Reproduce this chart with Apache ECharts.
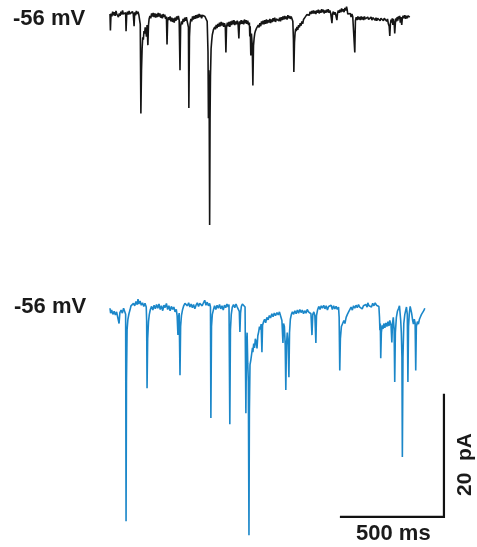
<!DOCTYPE html>
<html>
<head>
<meta charset="utf-8">
<script src="https://cdn.jsdelivr.net/npm/echarts@6/dist/echarts.min.js"></script>
<style>
html,body{margin:0;padding:0;background:#fff;}
#chart{width:477px;height:547px;}
</style>
</head>
<body>
<div id="chart"></div>
<script>
// Trace 1 (black): [time ms, current pA relative to holding baseline]
const traceBlack = [[0,0.2],[2,-2.5],[5,0.3],[9,-0.2],[13,0.6],[17,0.0],[21,0.5],[25,-0.1],[29,0.7],[33,0.2],[37,0.5],[41,-0.3],[45,0.3],[49,-0.1],[53,0.6],[57,0.1],[61,0.8],[65,0.2],[69,0.5],[73,-0.1],[76,0.4],[78,-2.6],[81,0.0],[85,0.6],[89,0.1],[93,0.7],[97,0.2],[101,0.5],[105,-0.1],[109,0.6],[113,0.2],[117,-1.8],[120,0.5],[124,0.0],[128,0.7],[132,0.2],[136,0.6],[140,0.1],[144,0.4],[147,-1.5],[150,-16.1],[153,-9],[156,-5.5],[159,-3.6],[162,-4.0],[165,-2.6],[168,-3.0],[171,-2.0],[174,-2.6],[177,-3.5],[180,-1.6],[184,-4.9],[187,-1.6],[190,-0.6],[194,-0.1],[198,-0.5],[202,0.3],[206,-0.2],[210,0.4],[214,-0.3],[218,0.3],[222,-0.4],[226,0.2],[230,-0.3],[234,0.4],[238,-0.2],[242,0.3],[246,-0.4],[250,0.1],[254,-0.5],[258,0.2],[262,-0.3],[266,0.1],[270,-0.6],[274,-0.2],[277,-4.8],[280,-0.9],[284,-0.3],[288,-0.8],[292,-0.2],[296,-1.0],[300,-0.4],[304,-1.1],[308,-0.5],[312,-1.2],[316,-0.4],[320,-0.9],[324,-0.2],[328,-0.7],[332,-0.1],[336,-0.8],[340,-9.0],[343,-1.8],[347,-1.0],[351,-1.5],[355,-0.6],[359,-1.1],[363,-0.4],[367,-0.9],[371,-0.3],[375,-1.0],[379,-0.8],[381,-2.0],[383,-15.2],[386,-3.5],[389,-1.4],[393,-0.6],[397,-1.0],[401,-0.2],[405,-0.7],[409,-0.1],[413,-0.6],[417,0.0],[421,-0.5],[425,0.1],[429,-0.4],[433,0.2],[437,-0.3],[441,0.1],[445,-0.5],[449,0.0],[453,-0.3],[457,0.2],[461,-0.2],[465,0.1],[469,-0.4],[472,-1.0],[476,-6],[478,-16.9],[480,-9],[482,-16.9],[484,-34.4],[486,-16.9],[488,-10],[491,-5.5],[494,-4.2],[497,-3.2],[500,-3.0],[503,-2.3],[506,-2.6],[509,-1.9],[512,-2.3],[516,-1.6],[520,-2.1],[524,-1.4],[528,-1.9],[532,-1.2],[536,-1.8],[540,-1.1],[544,-1.7],[548,-1.2],[552,-1.9],[556,-1.3],[560,-1.8],[563,-6.1],[566,-1.9],[570,-1.2],[574,-1.8],[578,-1.1],[582,-1.9],[586,-1.0],[590,-1.6],[594,-0.9],[598,-1.5],[602,-0.8],[606,-1.6],[610,-1.0],[614,-1.5],[618,-0.9],[622,-1.4],[626,-3.8],[629,-1.0],[633,-1.5],[637,-0.8],[641,-1.4],[645,-0.9],[649,-1.5],[653,-0.7],[657,-1.3],[661,-0.8],[665,-1.4],[669,-0.9],[673,-1.6],[677,-1.2],[679,-3.5],[681,-1.8],[684,-6.6],[687,-3],[691,-5],[694,-11.5],[697,-5],[700,-3.8],[703,-3.0],[706,-2.6],[709,-2.9],[712,-2.1],[716,-2.4],[720,-1.6],[724,-2.0],[728,-1.3],[732,-1.8],[736,-1.0],[740,-1.5],[744,-0.9],[748,-1.5],[752,-0.8],[756,-1.4],[760,-0.7],[764,-1.3],[768,-0.8],[772,-1.2],[776,-0.6],[780,-1.3],[784,-0.7],[788,-1.1],[792,-0.5],[796,-1.0],[800,-0.4],[804,-1.1],[808,-0.6],[812,-0.9],[816,-0.3],[820,-0.9],[824,-0.4],[828,-1.0],[832,-0.3],[836,-0.8],[840,-0.2],[844,-0.7],[848,-0.1],[852,-0.6],[856,-0.2],[860,-0.7],[864,0.0],[868,-0.5],[872,-0.1],[876,-0.6],[880,-0.2],[884,-0.5],[888,-1.0],[891,-4],[893,-9.3],[896,-4.5],[899,-2.9],[902,-2.2],[905,-2.6],[908,-1.9],[912,-2.4],[916,-1.6],[920,-2.0],[924,-1.3],[928,-1.7],[932,-1.0],[936,-1.4],[940,-0.7],[944,-1.0],[948,-0.3],[952,-0.6],[956,0.1],[960,-0.2],[964,0.4],[968,0.0],[972,0.6],[976,0.2],[980,0.7],[984,0.3],[988,0.8],[992,0.3],[996,0.7],[1000,0.2],[1004,0.8],[1008,0.4],[1012,0.9],[1016,0.3],[1020,0.8],[1024,0.4],[1028,1.0],[1032,0.5],[1036,0.9],[1040,0.3],[1044,0.8],[1048,0.4],[1052,0.9],[1056,0.5],[1060,1.0],[1064,0.4],[1068,0.8],[1072,0.3],[1075,0.5],[1078,-1.3],[1081,0.2],[1085,0.6],[1089,0.1],[1093,0.5],[1097,0.0],[1100,0.3],[1102,-0.8],[1105,0.3],[1109,0.8],[1113,0.4],[1117,0.9],[1121,0.5],[1125,1.1],[1129,0.6],[1133,1.0],[1137,0.5],[1141,1.2],[1145,0.8],[1149,1.4],[1152,0.9],[1155,0.2],[1159,0.5],[1163,-0.1],[1167,0.3],[1171,-0.3],[1175,0.2],[1179,-0.2],[1183,0.1],[1186,-0.4],[1189,-6.1],[1192,-0.9],[1196,-0.3],[1200,-0.8],[1204,-0.2],[1208,-0.7],[1212,-0.3],[1216,-0.8],[1220,-0.2],[1224,-0.7],[1228,-0.3],[1232,-0.8],[1236,-0.2],[1240,-0.6],[1244,-0.3],[1248,-0.8],[1252,-0.3],[1256,-0.7],[1260,-0.4],[1264,-0.9],[1268,-0.3],[1272,-0.8],[1276,-0.4],[1280,-0.7],[1284,-0.3],[1288,-0.8],[1292,-0.4],[1296,-0.9],[1300,-0.5],[1304,-0.8],[1308,-0.4],[1312,-0.9],[1316,-0.5],[1320,-0.8],[1324,-0.4],[1328,-0.9],[1332,-0.5],[1336,-0.8],[1340,-0.4],[1344,-1.0],[1348,-0.6],[1352,-1.4],[1356,-1.8],[1359,-3.4],[1362,-1.4],[1365,-0.7],[1368,-1.2],[1371,-0.5],[1374,-1.6],[1377,-0.6],[1380,-1.2],[1383,-3.0],[1386,-1.3],[1389,-0.5],[1392,-1.0],[1395,-0.3],[1398,-0.9],[1401,-0.2],[1404,-0.6],[1407,-0.1],[1410,-1.2],[1413,-0.3],[1417,-1.6],[1420,-0.5],[1424,-0.1],[1428,-0.5],[1432,0.0],[1436,-0.6],[1440,-0.1],[1444,-0.5],[1448,-0.1],[1452,-0.4],[1456,-0.3]];

// Trace 2 (blue): [time ms, current pA relative to holding baseline]
const traceBlue = [[0,0.0],[3,-0.8],[8,-0.3],[14,-1.0],[20,-0.5],[26,-1.1],[32,-0.6],[38,-0.9],[44,-2.5],[48,-0.7],[54,-0.3],[60,-0.8],[66,0.0],[72,-0.3],[76,-1.0],[78,-34.9],[80,-12],[83,-3.5],[87,-1.8],[92,-0.9],[97,-0.3],[102,0.4],[108,0.1],[114,0.8],[120,0.4],[126,1.1],[132,0.6],[136,1.5],[140,0.7],[146,1.2],[152,0.5],[158,0.9],[164,0.3],[170,0.8],[176,0.2],[178,-2],[180,-13.1],[183,-5],[187,-2.2],[191,-1.0],[196,-0.2],[202,0.3],[208,-0.3],[214,0.5],[220,-0.1],[226,0.6],[232,0.0],[238,0.7],[244,-0.2],[250,0.4],[256,-0.4],[262,0.5],[268,0.1],[274,0.8],[280,-0.2],[286,0.4],[292,-0.4],[298,0.3],[304,-0.2],[310,0.2],[316,-0.6],[322,-0.2],[326,-1.2],[330,-4.4],[333,-1.5],[336,-0.8],[340,-11.0],[343,-3.0],[347,-1.2],[352,-0.3],[358,0.4],[364,0.8],[370,1.1],[376,0.4],[382,0.9],[388,0.2],[394,0.7],[400,0.1],[406,0.6],[412,-0.1],[418,0.5],[424,0.9],[430,0.3],[436,0.8],[442,1.0],[448,0.4],[454,0.9],[460,1.3],[466,0.5],[472,1.0],[478,0.4],[484,0.8],[488,0.2],[490,-18.0],[493,-3],[497,-1.0],[502,-0.3],[508,0.4],[514,-0.2],[520,0.5],[526,0.0],[532,0.6],[538,-0.1],[544,0.4],[550,-0.3],[556,0.5],[562,0.1],[568,0.7],[574,0.2],[578,0.6],[582,-19.0],[585,-3.5],[589,-1.0],[594,0.2],[600,0.6],[606,0.1],[612,0.7],[618,0.2],[624,0.5],[628,-0.5],[631,-3.9],[634,-0.8],[638,0.3],[643,0.7],[648,1.0],[652,0.6],[656,0.2],[660,-17.2],[663,-6],[666,-4],[669,-9],[672,-12],[675,-37.2],[677,-17],[680,-9.3],[684,-8.5],[688,-7.5],[692,-6.5],[694,-7.2],[698,-5.8],[702,-6.5],[706,-5.0],[710,-5.5],[714,-6.6],[718,-4.5],[722,-3.9],[726,-3.0],[730,-3.5],[734,-2.6],[738,-7.2],[741,-2.8],[746,-2.2],[751,-1.8],[756,-2.4],[762,-1.5],[768,-1.9],[774,-1.2],[780,-1.6],[786,-0.9],[792,-1.4],[798,-0.8],[804,-1.2],[811,-0.7],[817,-1.1],[823,-0.6],[829,-1.3],[835,-2.0],[840,-5.7],[843,-2.5],[847,-3.0],[851,-6],[854,-13.4],[857,-6],[861,-4.0],[865,-5.5],[869,-11.3],[872,-4.0],[876,-1.8],[881,-1.0],[886,-0.6],[892,-1.0],[898,-0.4],[904,-0.9],[910,-0.3],[916,-0.8],[922,-0.2],[928,-0.7],[934,-0.3],[940,-0.9],[946,-0.4],[952,-0.8],[958,-0.2],[964,-0.6],[970,-0.3],[976,-0.9],[981,-4.4],[985,-1.0],[990,-0.6],[995,-1.2],[1000,-5.7],[1003,-1.2],[1008,-0.3],[1014,0.3],[1020,-0.2],[1026,0.4],[1032,0.0],[1038,0.5],[1044,-0.1],[1050,0.4],[1056,-0.3],[1062,0.3],[1068,0.0],[1074,0.5],[1080,-0.2],[1086,0.4],[1092,-0.1],[1098,0.3],[1104,-0.2],[1110,0.2],[1113,-1.5],[1116,-10.2],[1119,-5],[1124,-3.0],[1130,-2.5],[1136,-2.0],[1141,-2.5],[1147,-1.5],[1153,-1.0],[1159,-0.6],[1165,-0.3],[1171,0.2],[1177,-0.3],[1183,0.4],[1189,0.0],[1195,0.5],[1201,0.1],[1207,0.6],[1213,0.2],[1219,0.5],[1225,-0.1],[1231,0.4],[1237,0.1],[1243,0.6],[1249,0.2],[1252,0.9],[1258,0.4],[1264,0.7],[1270,0.2],[1276,0.8],[1282,0.4],[1288,0.9],[1294,0.5],[1300,0.7],[1306,0.3],[1309,-1.5],[1311,-3.6],[1313,-2.5],[1315,-8.2],[1318,-4.0],[1322,-2.8],[1326,-3.4],[1330,-2.5],[1335,-3.2],[1340,-2.4],[1345,-3.0],[1350,-2.2],[1355,-2.9],[1359,-2.0],[1365,-2.8],[1369,-5.6],[1372,-2.5],[1376,-1.5],[1380,-3.5],[1383,-12.1],[1386,-4.0],[1391,-1.5],[1396,-0.5],[1402,0.0],[1406,0.4],[1409,0.3],[1412,-2],[1415,-4],[1418,-8],[1420,-24.4],[1423,-8],[1427,-2.5],[1432,-1.0],[1436,-0.4],[1440,0.2],[1444,-1.0],[1447,-12.1],[1450,-3.0],[1454,-0.8],[1458,0.3],[1461,0.6],[1465,-0.8],[1470,-2.0],[1474,-2.6],[1478,-1.8],[1482,-2.4],[1485,-10.2],[1488,-3.0],[1493,-2.2],[1498,-2.6],[1503,-1.8],[1508,-1.4],[1513,-1.0],[1518,-0.8],[1524,-0.4],[1529,0.0]];

// Labels and scale bar
const holdingLabels = ['-56 mV', '-56 mV'];
const scaleTimeMs = 500;
const scaleCurrentPa = 20;
const scaleTimeLabel = '500 ms';
const scaleCurrentLabel = '20  pA';
const scaleBarStartMs = 1122;
const scaleBarBottomPa = -34.2;

const scaleBarData = [
  [scaleBarStartMs, scaleBarBottomPa],
  [scaleBarStartMs + scaleTimeMs, scaleBarBottomPa],
  [scaleBarStartMs + scaleTimeMs, scaleBarBottomPa + scaleCurrentPa]
];

const chart = echarts.init(document.getElementById('chart'), null, {renderer: 'canvas'});
const font = '"Liberation Sans", Arial, Helvetica, sans-serif';
const hiddenX = (gi) => ({type: 'value', gridIndex: gi, min: 0, max: 1700, show: false});
const hiddenY = (gi) => ({type: 'value', gridIndex: gi, min: -37.5, max: 2.5, show: false});

chart.setOption({
  animation: false,
  backgroundColor: '#ffffff',
  grid: [
    {left: 110, width: 350, top: 0, height: 244},
    {left: 110, width: 350, top: 293, height: 244}
  ],
  xAxis: [hiddenX(0), hiddenX(1)],
  yAxis: [hiddenY(0), hiddenY(1)],
  series: [
    {type: 'line', xAxisIndex: 0, yAxisIndex: 0, data: traceBlack, showSymbol: false, symbol: 'none',
     lineStyle: {color: '#151515', width: 1.6}, clip: false},
    {type: 'line', xAxisIndex: 1, yAxisIndex: 1, data: traceBlue, showSymbol: false, symbol: 'none',
     lineStyle: {color: '#1b87c9', width: 1.6}, clip: false},
    {type: 'line', xAxisIndex: 1, yAxisIndex: 1, data: scaleBarData, showSymbol: false, symbol: 'none',
     lineStyle: {color: '#111111', width: 2.2, cap: 'square', join: 'miter'}, clip: false}
  ],
  graphic: [
    {type: 'text', left: 13, top: 8, style: {text: holdingLabels[0], font: 'bold 22px ' + font, fill: '#1a1a1a'}},
    {type: 'text', left: 14, top: 296, style: {text: holdingLabels[1], font: 'bold 22px ' + font, fill: '#1a1a1a'}},
    {type: 'text', left: 356, top: 523, style: {text: scaleTimeLabel, font: 'bold 22px ' + font, fill: '#1a1a1a'}},
    {type: 'text', x: 455, y: 496, rotation: Math.PI / 2,
     style: {text: scaleCurrentLabel, font: 'bold 21px ' + font, fill: '#1a1a1a', align: 'left', verticalAlign: 'top'}}
  ]
});
</script>
</body>
</html>
